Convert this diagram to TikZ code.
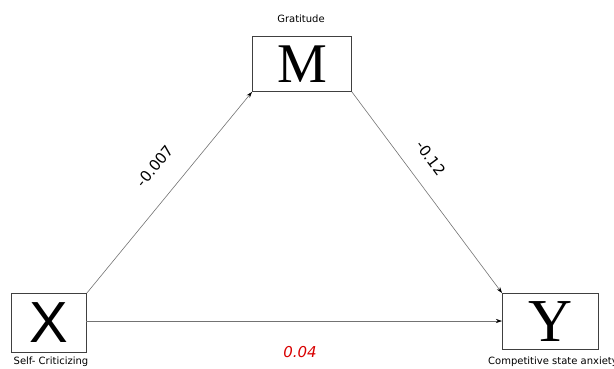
\documentclass[tikz,border=0pt]{standalone}
\usepackage{fontspec}
\setmainfont{DejaVu Sans}
\newfontfamily\serifletter{Liberation Serif}
\newfontfamily\sansletter{Liberation Sans}
\usetikzlibrary{arrows.meta}
\begin{document}
\begin{tikzpicture}[x=1pt,y=-1pt,
  varbox/.style={draw=black!75,line width=0.9pt,inner sep=0pt,anchor=north west},
  conn/.style={draw=black!55,line width=0.6pt,-{Stealth[length=6pt,width=4pt,black]}},
  smalllab/.style={font=\fontsize{10}{11}\selectfont,inner sep=0pt},
  coef/.style={font=\fontsize{15}{17}\selectfont,inner sep=0pt}]
\useasboundingbox (0,0) rectangle (614,368);
\node[varbox,minimum width=99pt,minimum height=55pt,font=\serifletter\fontsize{56}{56}\selectfont] (M) at (252,36) {M};
\node[varbox,minimum width=75pt,minimum height=59pt,font=\sansletter\fontsize{58}{58}\selectfont] (X) at (11,293) {X};
\node[varbox,minimum width=96pt,minimum height=56pt,font=\serifletter\fontsize{61}{61}\selectfont] (Y) at (502,293) {Y};
\node[smalllab] (gl) at (301,19) {Gratitude};
\node[smalllab] (xl) at (51,362) {Self- Criticizing};
\node[smalllab] (yl) at (553,362) {Competitive state anxiety};
\draw[conn] (X.north east) -- (M.south west);
\draw[conn] (M.south east) -- (Y.north west);
\coordinate (xa) at (86,321);
\coordinate (ya) at (502,321);
\draw[conn] (xa) -- (ya);
\node[coef,rotate=50.7] (c1) at (155,166) {-0.007};
\node[coef,rotate=-53.2] (c2) at (431,158) {-0.12};
\node[coef,text=red!85!black,font=\itshape\fontsize{15}{17}\selectfont] (c3) at (300,352) {0.04};
\end{tikzpicture}
\end{document}
